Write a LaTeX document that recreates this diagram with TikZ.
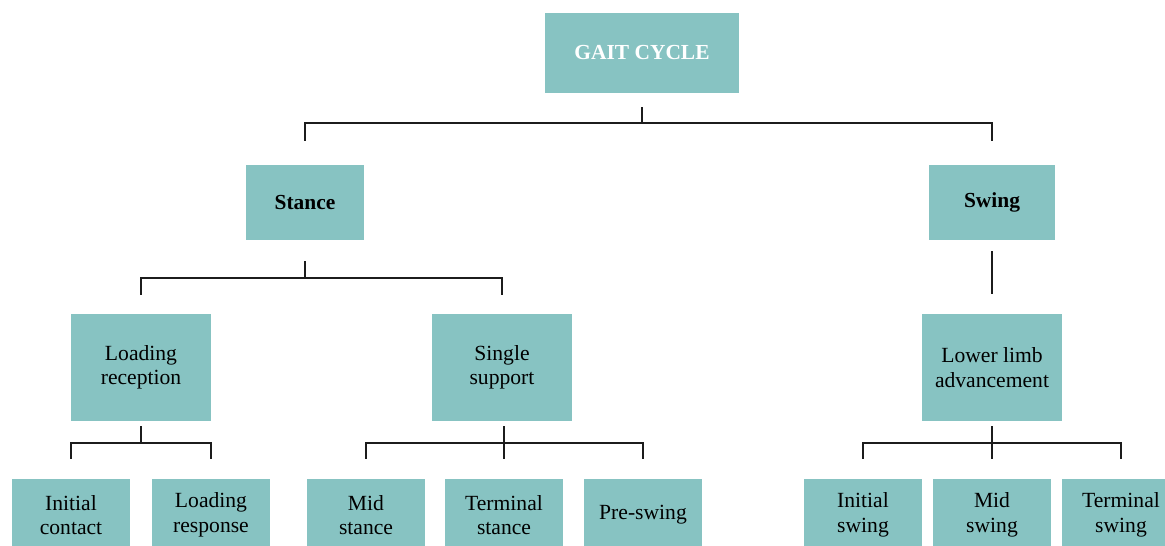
\documentclass[tikz,border=0pt]{standalone}
\usepackage{fontspec}
\setmainfont{Liberation Serif}
\usepackage{tikz}
\usetikzlibrary{positioning}
\definecolor{gait_teal}{HTML}{87C3C2}
\definecolor{gait_line}{HTML}{1C1C1C}

\begin{document}
\begin{tikzpicture}[
    x=0.02cm,
    y=-0.02cm,
    line cap=rect,
    every node/.style={font=\fontsize{12.3}{13.9}\selectfont},
    phase/.style={fill=gait_teal, draw=none, align=center, inner sep=2pt},
    toplevel/.style={phase, minimum width=3.9cm, minimum height=1.6cm,
        text=white, font=\fontsize{12.2}{14}\selectfont\bfseries},
    mainphase/.style={phase, minimum height=1.5cm, font=\fontsize{12.2}{14}\selectfont\bfseries},
    period/.style={phase, minimum width=2.8cm, minimum height=2.14cm},
    subphase/.style={phase, minimum width=2.36cm, minimum height=1.44cm},
    link/.style={draw=gait_line, line width=1.1pt}
]

% Page frame (pixel units, y runs downwards)
\useasboundingbox (0,0) rectangle (1165,546);
\clip (0,0) rectangle (1165,546);

% Root
\node[toplevel] (gait) at (642,53) {GAIT CYCLE};

% Stance and swing
\node[mainphase, minimum width=2.36cm] (stance) at (305,202.5) {Stance};
\node[mainphase, minimum width=2.52cm] (swing)  at (992,202.5) {Swing};

% Periods
\node[period] (loading) at (141,367.5) {Loading\\reception};
\node[period] (single)  at (502,367.5) {Single\\support};
\node[period] (advance) at (992,367.5) {Lower limb\\advancement};

% Sub-phases
\node[subphase] (contact)  at (71,515)  {Initial\\contact};
\node[subphase] (response) at (211,515) {Loading\\response};
\node[subphase] (midst)    at (366,515) {Mid\\stance};
\node[subphase] (termst)   at (504,515) {Terminal\\stance};
\node[subphase] (preswing) at (643,515) {Pre-swing};
\node[subphase] (initsw)   at (863,515) {Initial\\swing};
\node[subphase] (midsw)    at (992,515) {Mid\\swing};
\node[subphase] (termsw)   at (1121,515) {Terminal\\swing};

% Gait cycle -> stance / swing
\draw[link] (gait.south) ++(0,15) -- ++(0,15) coordinate (gbar);
\draw[link] (stance.north) ++(0,-25) |- (swing.north |- gbar) -- ++(0,17);

% Stance -> loading reception / single support
\draw[link] (stance.south) ++(0,22) -- ++(0,16) coordinate (sbar);
\draw[link] (loading.north) ++(0,-20) |- (single.north |- sbar) -- ++(0,16);

% Swing -> lower limb advancement
\draw[link] (swing.south) ++(0,12) -- ([yshift=0.42cm]advance.north);

% Loading reception -> initial contact / loading response
\draw[link] (loading.south) ++(0,6) -- ++(0,16) coordinate (lbar);
\draw[link] (contact.north) ++(0,-21) |- (response.north |- lbar) -- ++(0,15);

% Single support -> mid stance / terminal stance / pre-swing
\draw[link] (termst.north) ++(0,-52) -- ++(0,31);
\draw[link] (midst.north) ++(0,-21) |- (preswing.north |- lbar) -- ++(0,15);

% Lower limb advancement -> initial / mid / terminal swing
\draw[link] (advance.south) ++(0,6) -- ([yshift=0.42cm]midsw.north);
\draw[link] (initsw.north) ++(0,-21) |- (termsw.north |- lbar) -- ++(0,15);

\end{tikzpicture}
\end{document}
